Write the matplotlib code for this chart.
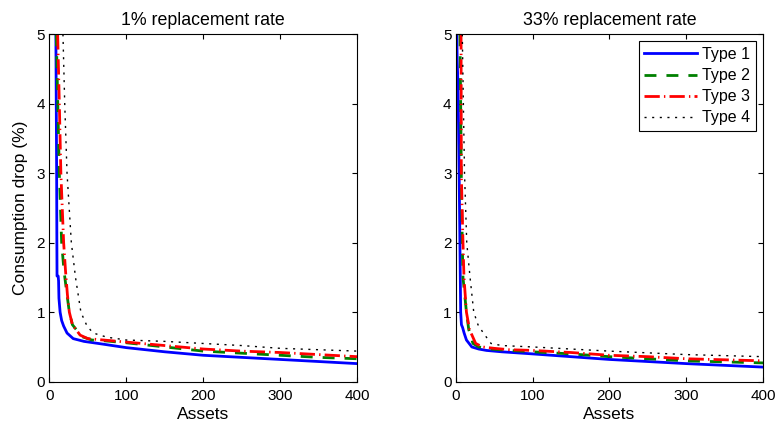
import matplotlib.pyplot as plt

plt.rcParams['font.family'] = ['Liberation Sans', 'DejaVu Sans']
plt.rcParams['font.size'] = 11

labels = ['Type 1', 'Type 2', 'Type 3', 'Type 4']
colors = ['#0000ff', '#008000', '#ff0000', '#000000']
styles = ['-', (0, (4.3, 3.6)), (0, (5.5, 1.5, 0.5, 1.5)), (0, (1.5, 4))]
widths = [2.0, 2.0, 2.0, 1.0]

titles = ['1% replacement rate', '33% replacement rate']

# left panel: 1% replacement rate
x1_t1 = [8.5, 9, 9.5, 9.8, 10, 11.5, 12, 12.5, 14, 16, 18.6, 23, 31, 45, 70, 100, 150, 200, 250, 300, 350, 400]
y1_t1 = [5.0, 4.0, 3.0, 2.0, 1.52, 1.52, 1.45, 1.2, 1.0, 0.88, 0.8, 0.7, 0.62, 0.58, 0.54, 0.49, 0.43, 0.38, 0.35, 0.32, 0.29, 0.26]
x1_t2 = [9, 11, 13, 16, 19, 23, 26, 30, 42, 55, 70, 100, 150, 200, 250, 300, 350, 400]
y1_t2 = [5.0, 4.0, 3.0, 2.0, 1.6, 1.25, 1.0, 0.82, 0.65, 0.6, 0.59, 0.56, 0.5, 0.44, 0.41, 0.38, 0.35, 0.33]
x1_t3 = [10.8, 13, 15, 18.6, 21, 23.5, 26, 30, 40, 50, 70, 100, 150, 200, 250, 300, 350, 400]
y1_t3 = [5.0, 4.0, 3.0, 2.0, 1.6, 1.25, 1.0, 0.82, 0.67, 0.62, 0.6, 0.57, 0.52, 0.47, 0.44, 0.42, 0.39, 0.36]
x1_t4 = [17.7, 20, 23, 28.6, 34, 41, 49, 57, 75, 100, 150, 200, 250, 300, 350, 400]
y1_t4 = [5.0, 4.0, 3.0, 2.0, 1.5, 1.0, 0.8, 0.7, 0.64, 0.6, 0.58, 0.55, 0.52, 0.48, 0.46, 0.44]

# right panel: 33% replacement rate
x2_t1 = [1.5, 2, 3, 4.5, 5.5, 6.5, 7.5, 9, 11, 14, 21, 30, 40, 60, 100, 150, 200, 250, 300, 350, 400]
y2_t1 = [5.0, 4.6, 4.3, 3.0, 2.0, 1.0, 0.82, 0.78, 0.7, 0.6, 0.5, 0.47, 0.45, 0.43, 0.4, 0.36, 0.32, 0.29, 0.26, 0.235, 0.21]
x2_t2 = [5.6, 6.5, 7.3, 8.6, 9.5, 14, 17, 22.5, 30, 45, 70, 100, 150, 200, 250, 300, 350, 400]
y2_t2 = [5.0, 4.0, 3.0, 2.0, 1.5, 1.0, 0.75, 0.55, 0.5, 0.47, 0.45, 0.43, 0.4, 0.36, 0.33, 0.3, 0.285, 0.27]
x2_t3 = [7, 7.2, 7.3, 9.5, 10.8, 14, 18, 26, 35, 50, 70, 100, 150, 200, 250, 300, 350, 400]
y2_t3 = [5.0, 4.0, 3.0, 2.0, 1.5, 1.0, 0.75, 0.55, 0.5, 0.48, 0.46, 0.45, 0.42, 0.38, 0.36, 0.33, 0.315, 0.3]
x2_t4 = [8.6, 10, 11.5, 14.4, 18.7, 23.5, 29, 36, 46, 60, 80, 100, 150, 200, 250, 300, 350, 400]
y2_t4 = [5.0, 4.0, 3.0, 2.0, 1.5, 1.0, 0.82, 0.7, 0.55, 0.52, 0.51, 0.5, 0.47, 0.44, 0.415, 0.39, 0.375, 0.36]

panels = [
    [(x1_t1, y1_t1), (x1_t2, y1_t2), (x1_t3, y1_t3), (x1_t4, y1_t4)],
    [(x2_t1, y2_t1), (x2_t2, y2_t2), (x2_t3, y2_t3), (x2_t4, y2_t4)],
]

fig = plt.figure(figsize=(7.78, 4.28), dpi=100)
ax1 = fig.add_axes([0.0634, 0.1082, 0.3959, 0.8117])
ax2 = fig.add_axes([0.5857, 0.1082, 0.3954, 0.8117])

for ax, title, curves in zip([ax1, ax2], titles, panels):
    for (x, y), lab, c, ls, lw in zip(curves, labels, colors, styles, widths):
        ax.plot(x, y, color=c, linestyle=ls, linewidth=lw, label=lab)
    ax.set_xlim(0, 400)
    ax.set_ylim(0, 5)
    ax.set_xticks([0, 100, 200, 300, 400])
    ax.set_yticks([0, 1, 2, 3, 4, 5])
    ax.tick_params(direction='in', top=True, right=True, length=3.5,
                   labelsize=11)
    ax.tick_params(axis='x', pad=5)
    ax.tick_params(axis='y', pad=3)
    ax.set_title(title, fontsize=12.8, pad=7)
    ax.set_xlabel('Assets', fontsize=12.5, labelpad=3)

ax1.set_ylabel('Consumption drop (%)', fontsize=12.5, labelpad=6)
leg = ax2.legend(loc='upper right', fancybox=False, edgecolor='black',
                 fontsize=11.5, borderaxespad=0.45, handlelength=3.3,
                 labelspacing=0.38, handletextpad=0.35, borderpad=0.35,
                 framealpha=1)
leg.get_frame().set_linewidth(0.8)

plt.savefig('out.png', dpi=100)
